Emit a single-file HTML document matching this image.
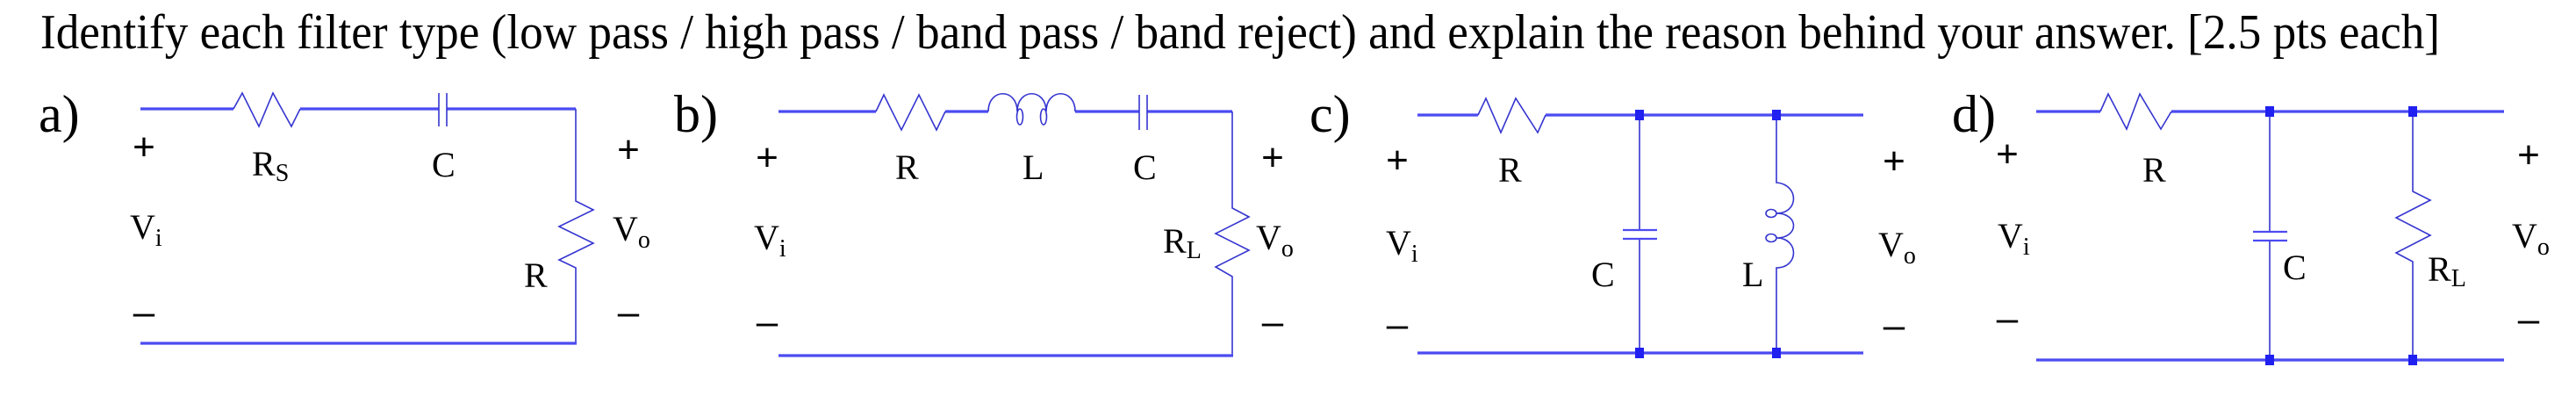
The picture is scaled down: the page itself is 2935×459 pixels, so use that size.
<!DOCTYPE html>
<html><head><meta charset="utf-8"><style>
html,body{margin:0;padding:0;background:#fff;}
svg{display:block;}
text{font-family:"Liberation Serif",serif;fill:#000;}
.l{font-size:40px;}
.s{font-size:28px;}
.pm{font-family:"Liberation Sans",sans-serif;font-size:44px;}
.t{stroke:#3535d0;stroke-width:1.6;fill:none;}
.w{stroke:#4b4bf2;stroke-width:3.2;fill:none;}
.d{fill:#2020f0;}
</style></head><body>
<svg width="2935" height="459" viewBox="0 0 2935 459" xmlns="http://www.w3.org/2000/svg">
<text x="46" y="55" style="font-size:56px" textLength="2734" lengthAdjust="spacingAndGlyphs">Identify each filter type (low pass / high pass / band pass / band reject) and explain the reason behind your answer. [2.5 pts each]</text>

<!-- a -->
<text x="44" y="150" style="font-size:60px">a)</text>
<path class="w" d="M160,124 H266 M342,124 H500 M509,124 H656"/>
<path class="t" d="M266,124 L276,106 L295,144 L311,106 L332,144 L342,124"/>
<path class="t" d="M500,106 V144 M509,106 V144"/>
<path class="t" d="M656,124 V229 L676,239 L637,258 L676,277 L637,296 L656,305 V391"/>
<path class="w" d="M160,391 H657"/>
<text class="pm" x="164" y="182" text-anchor="middle">+</text>
<text class="pm" x="164" y="370" text-anchor="middle">–</text>
<text class="pm" x="716" y="185" text-anchor="middle">+</text>
<text class="pm" x="716" y="370" text-anchor="middle">–</text>
<text class="l" x="287" y="200">R<tspan class="s" dy="6">S</tspan></text>
<text class="l" x="492" y="201">C</text>
<text class="l" x="148" y="272">V<tspan class="s" dy="8">i</tspan></text>
<text class="l" x="698" y="274">V<tspan class="s" dy="8">o</tspan></text>
<text class="l" x="597" y="327">R</text>

<!-- b -->
<text x="768" y="150" style="font-size:60px">b)</text>
<path class="w" d="M887,127 H998 M1077,127 H1126 M1225,127 H1298 M1307,127 H1404"/>
<path class="t" d="M998,127 L1007,108 L1027,148 L1047,108 L1067,148 L1077,127"/>
<path class="t" d="M1126,127 C1126,100 1159,100 1159,127 C1159,100 1192,100 1192,127 C1192,100 1225,100 1225,127"/>
<ellipse class="t" cx="1162" cy="133" rx="3.5" ry="9"/>
<ellipse class="t" cx="1189" cy="133" rx="3.5" ry="9"/>
<path class="t" d="M1298,108 V148 M1307,108 V148"/>
<path class="t" d="M1404,127 V237 L1423,247 L1385,266 L1423,285 L1385,304 L1404,315 V405"/>
<path class="w" d="M887,405 H1405"/>
<text class="pm" x="874" y="194" text-anchor="middle">+</text>
<text class="pm" x="874" y="381" text-anchor="middle">–</text>
<text class="pm" x="1450" y="194" text-anchor="middle">+</text>
<text class="pm" x="1450" y="381" text-anchor="middle">–</text>
<text class="l" x="1020" y="204">R</text>
<text class="l" x="1165" y="204">L</text>
<text class="l" x="1291" y="204">C</text>
<text class="l" x="859" y="284">V<tspan class="s" dy="8">i</tspan></text>
<text class="l" x="1325" y="288">R<tspan class="s" dy="6">L</tspan></text>
<text class="l" x="1431" y="284">V<tspan class="s" dy="8">o</tspan></text>

<!-- c -->
<text x="1492" y="150" style="font-size:60px">c)</text>
<path class="w" d="M1615,131 H1684 M1761,131 H2123"/>
<path class="t" d="M1684,131 L1693,112 L1710,151 L1727,112 L1752,151 L1761,131"/>
<path class="w" d="M1615,402 H2123"/>
<path class="t" d="M1868,131 V262 M1868,272 V402"/>
<path class="w" d="M1849,262 H1888 M1849,272 H1888" style="stroke-width:2.2"/>
<path class="t" d="M2024,131 V208 C2050,210 2050,243 2024,243 C2050,243 2050,271 2024,271 C2050,271 2050,305 2024,305 V402"/>
<ellipse class="t" cx="2018" cy="243" rx="6" ry="4.5"/>
<ellipse class="t" cx="2018" cy="271" rx="6" ry="4.5"/>
<rect class="d" x="1863" y="125" width="10" height="12"/>
<rect class="d" x="2019" y="125" width="10" height="12"/>
<rect class="d" x="1863" y="396" width="10" height="12"/>
<rect class="d" x="2019" y="396" width="10" height="12"/>
<text class="pm" x="1592" y="197" text-anchor="middle">+</text>
<text class="pm" x="1592" y="384" text-anchor="middle">–</text>
<text class="pm" x="2158" y="198" text-anchor="middle">+</text>
<text class="pm" x="2158" y="385" text-anchor="middle">–</text>
<text class="l" x="1707" y="207">R</text>
<text class="l" x="1579" y="290">V<tspan class="s" dy="8">i</tspan></text>
<text class="l" x="1813" y="326">C</text>
<text class="l" x="1985" y="326">L</text>
<text class="l" x="2140" y="292">V<tspan class="s" dy="8">o</tspan></text>

<!-- d -->
<text x="2224" y="150" style="font-size:60px">d)</text>
<path class="w" d="M2320,127 H2393 M2474,127 H2853"/>
<path class="t" d="M2393,127 L2402,107 L2423,147 L2438,107 L2462,147 L2474,127"/>
<path class="w" d="M2320,410 H2853"/>
<path class="t" d="M2586,127 V264 M2586,274 V410"/>
<path class="w" d="M2567,264 H2606 M2567,274 H2606" style="stroke-width:2.2"/>
<path class="t" d="M2749,127 V218 L2769,228 L2730,248 L2769,268 L2730,288 L2749,298 V410"/>
<rect class="d" x="2581" y="121" width="10" height="12"/>
<rect class="d" x="2744" y="121" width="10" height="12"/>
<rect class="d" x="2581" y="404" width="10" height="12"/>
<rect class="d" x="2744" y="404" width="10" height="12"/>
<text class="pm" x="2287" y="190" text-anchor="middle">+</text>
<text class="pm" x="2287" y="377" text-anchor="middle">–</text>
<text class="pm" x="2881" y="191" text-anchor="middle">+</text>
<text class="pm" x="2881" y="378" text-anchor="middle">–</text>
<text class="l" x="2441" y="207">R</text>
<text class="l" x="2276" y="282">V<tspan class="s" dy="8">i</tspan></text>
<text class="l" x="2601" y="318">C</text>
<text class="l" x="2766" y="320">R<tspan class="s" dy="6">L</tspan></text>
<text class="l" x="2862" y="282">V<tspan class="s" dy="8">o</tspan></text>
</svg>
</body></html>
